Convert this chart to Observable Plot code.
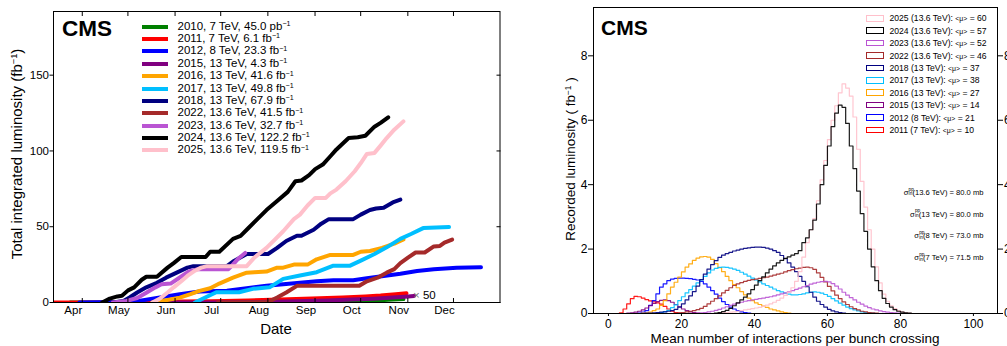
<!DOCTYPE html>
<html>
<head>
<meta charset="utf-8">
<script src="https://cdn.jsdelivr.net/npm/d3@7"></script>
<script src="https://cdn.jsdelivr.net/npm/@observablehq/plot@0.6"></script>
<style>
  html, body { margin: 0; padding: 0; background: #fff; }
  body { font-family: "Liberation Sans", Arial, Helvetica, sans-serif; color: #000; }
  #wrap { position: relative; width: 1007px; height: 346px; overflow: hidden; background: #fff; }
  .t { position: absolute; white-space: nowrap; line-height: 1; }
  .sup { font-size: 0.62em; position: relative; top: -0.5em; }
  .sw { position: absolute; }
  .ss { display: inline-block; position: relative; width: 0.85em; height: 1em; font-size: 0.62em; vertical-align: baseline; }
  .ss .p { position: absolute; left: 0.05em; top: -0.55em; }
  .ss .i { position: absolute; left: 0.05em; top: 0.45em; }
  .mu { font-size: 0.8em; }
</style>
</head>
<body>
<div id="wrap"></div>
<script>
// ---------------- LEFT PANEL DATA: cumulative integrated luminosity ----------------
const lumiYears  = ["2010", "2011", "2012", "2015", "2016", "2017", "2018", "2022", "2023", "2024", "2025"];
const lumiColors = ["green", "red", "blue", "purple", "orange", "deepskyblue", "navy", "brown", "mediumorchid", "black", "pink"];
const lumiLabels = ["2010, 7 TeV, 45.0 pb", "2011, 7 TeV, 6.1 fb", "2012, 8 TeV, 23.3 fb", "2015, 13 TeV, 4.3 fb",
  "2016, 13 TeV, 41.6 fb", "2017, 13 TeV, 49.8 fb", "2018, 13 TeV, 67.9 fb", "2022, 13.6 TeV, 41.5 fb",
  "2023, 13.6 TeV, 32.7 fb", "2024, 13.6 TeV, 122.2 fb", "2025, 13.6 TeV, 119.5 fb"];
const monthTicks = ["04-01", "05-01", "06-01", "07-01", "08-01", "09-01", "10-01", "11-01", "12-01"];
const lumiTicks = [0, 50, 100, 150];

// 2010 is drawn x50
const dates2010 = ["03-30", "05-01", "06-01", "07-01", "08-01", "08-20", "09-10", "09-25", "10-05", "10-15", "10-25", "11-04"];
const lumi2010  = [0, 0, 0.01, 0.05, 0.15, 0.2, 0.3, 0.5, 0.8, 1.2, 1.8, 2.25];
const dates2011 = ["03-19", "04-15", "05-01", "05-20", "06-10", "07-01", "07-25", "08-15", "09-05", "09-25", "10-10", "10-20", "10-30", "11-06"];
const lumi2011  = [0, 0.02, 0.1, 0.3, 0.6, 0.9, 1.3, 2.0, 2.6, 3.3, 4.0, 4.6, 5.5, 6.1];
const dates2012 = ["04-05", "05-02", "05-15", "05-28", "06-10", "06-23", "07-11", "07-24", "08-06", "08-17", "08-28", "09-08", "09-19", "10-02", "10-11", "10-22", "11-02", "11-13", "11-24", "12-09", "12-25"];
const lumi2012  = [0, 0.3, 1.2, 3.3, 5.5, 7.2, 7.7, 9.4, 11, 12, 13, 14, 14.7, 14.7, 16, 17.5, 19, 20.8, 22, 23, 23.3];
const dates2015 = ["06-03", "07-01", "08-01", "08-25", "09-15", "10-01", "10-15", "10-28", "11-05", "11-11"];
const lumi2015  = [0, 0.05, 0.3, 0.9, 1.4, 1.9, 2.5, 3.3, 3.8, 4.3];
const dates2016 = ["05-23", "06-01", "06-10", "06-17", "06-23", "06-30", "07-06", "07-15", "07-24", "07-29", "08-06", "08-13", "08-17", "08-24", "09-02", "09-08", "09-17", "10-02", "10-07", "10-13", "10-21", "10-29", "11-04"];
const lumi2016  = [0, 1.5, 3.2, 5.5, 7.7, 9.4, 12.5, 16.4, 19.7, 20, 20.4, 23, 23, 25, 25, 28.5, 31.4, 31.4, 33.5, 34, 36, 38.8, 41.6];
const dates2017 = ["06-20", "06-24", "07-04", "07-19", "07-28", "08-08", "08-17", "08-28", "09-08", "09-19", "09-30", "10-07", "10-16", "10-24", "11-02", "11-09", "11-17", "12-04"];
const lumi2017  = [0, 2, 6.8, 6.8, 9, 10, 15.6, 17.8, 20, 24.3, 24.3, 27.6, 32, 36.4, 42, 45.2, 49.1, 49.8];
const dates2018 = ["04-27", "05-04", "05-08", "05-13", "05-19", "05-26", "06-01", "06-08", "06-15", "06-19", "07-11", "07-15", "07-24", "08-07", "08-13", "08-19", "08-26", "08-29", "09-06", "09-11", "09-16", "10-02", "10-07", "10-13", "10-17", "10-22", "10-28", "11-02"];
const lumi2018  = [0, 1, 3.3, 6.6, 10, 13, 16.4, 19.7, 23, 24, 24, 27, 32, 32, 36, 40.6, 44, 44, 48, 52, 55, 55, 58, 61, 62, 62.5, 66, 67.9];
const dates2022 = ["07-05", "08-07", "08-13", "08-19", "08-26", "10-06", "10-11", "10-18", "10-24", "10-29", "11-02", "11-07", "11-12", "11-18", "11-24", "11-28", "12-01", "12-06"];
const lumi2022  = [0, 0.3, 3.3, 6.6, 11, 11, 14, 16.4, 19.7, 22, 26, 29.6, 33, 33, 37, 37.3, 39.5, 41.5];
const dates2023 = ["04-27", "05-06", "05-13", "05-19", "05-25", "05-29", "06-04", "06-10", "06-16", "06-22", "07-12", "07-14", "07-18", "07-23"];
const lumi2023  = [0, 1, 3, 6.5, 10, 12, 12.5, 16.5, 20.5, 22, 22, 24, 28.5, 32.7];
const dates2024 = ["04-20", "04-25", "04-30", "05-03", "05-07", "05-11", "05-16", "05-19", "05-26", "06-02", "06-06", "06-11", "06-27", "06-30", "07-06", "07-15", "07-20", "07-25", "07-31", "08-06", "08-13", "08-20", "08-25", "08-29", "09-03", "09-07", "09-12", "09-17", "09-21", "09-29", "10-05", "10-10", "10-16", "10-20", "10-25"];
const lumi2024  = [0, 2.6, 4, 4.4, 8, 10, 15, 17, 17, 23, 26, 30, 30, 33.5, 33.5, 42, 44, 49, 55, 61, 67, 73, 80, 80.5, 84, 88, 91, 96.5, 101, 108.5, 109, 110, 116, 118.5, 122.2];
const dates2025 = ["05-23", "05-28", "06-02", "06-06", "06-11", "06-15", "06-20", "06-24", "06-28", "07-24", "07-29", "08-06", "08-11", "08-17", "08-24", "08-28", "09-02", "09-07", "09-14", "09-17", "09-21", "09-27", "10-03", "10-07", "10-11", "10-16", "10-20", "10-24", "10-29", "11-04"];
const lumi2025  = [0, 2.6, 6.6, 10, 14, 17.5, 21, 23, 24, 24, 29.6, 36, 41, 47, 55, 58, 64, 69, 69, 72, 74.5, 80, 86.6, 92, 98, 98.7, 103.5, 108.5, 114, 119.5];

const lumiDates = [dates2010, dates2011, dates2012, dates2015, dates2016, dates2017, dates2018, dates2022, dates2023, dates2024, dates2025];
const lumiVals  = [lumi2010, lumi2011, lumi2012, lumi2015, lumi2016, lumi2017, lumi2018, lumi2022, lumi2023, lumi2024, lumi2025];

// ---------------- RIGHT PANEL DATA: pileup distributions (bin width 1, first bin given) ----------------
const puYears  = ["2011", "2012", "2015", "2016", "2017", "2018", "2022", "2023", "2025", "2024"];
const puColors = ["red", "blue", "purple", "orange", "deepskyblue", "navy", "brown", "mediumorchid", "pink", "black"];
const puLegendYears  = ["2025", "2024", "2023", "2022", "2018", "2017", "2016", "2015", "2012", "2011"];
const puLegendEnergy = ["13.6", "13.6", "13.6", "13.6", "13", "13", "13", "13", "8", "7"];
const puLegendMean   = [60, 57, 52, 46, 37, 38, 27, 14, 21, 10];
const puTicks  = [0, 20, 40, 60, 80, 100];
const recTicks = [0, 2, 4, 6, 8];
const xsecEnergy = ["13.6", "13", "8", "7"];
const xsecValue  = ["80.0", "80.0", "73.0", "71.5"];

const pu2011Start = 3;
const pu2011 = [0.02, 0.14, 0.3, 0.46, 0.53, 0.52, 0.48, 0.43, 0.39, 0.36, 0.33, 0.29, 0.22, 0.14, 0.07, 0.03, 0.01];
const pu2012Start = 8;
const pu2012 = [0.01, 0.04, 0.09, 0.25, 0.4, 0.61, 0.82, 0.92, 1.02, 1.07, 1.09, 1.1, 1.1, 1.09, 1.08, 1.06, 1.04, 1.0, 0.92, 0.82, 0.71, 0.6, 0.48, 0.37, 0.28, 0.2, 0.14, 0.09, 0.05, 0.03, 0.01];
const pu2015Start = 5;
const pu2015 = [0.01, 0.02, 0.04, 0.07, 0.11, 0.17, 0.24, 0.31, 0.37, 0.41, 0.42, 0.4, 0.35, 0.28, 0.21, 0.14, 0.09, 0.05, 0.03, 0.01];
const pu2016Start = 9;
const pu2016 = [0.01, 0.02, 0.04, 0.09, 0.14, 0.25, 0.4, 0.61, 0.82, 0.97, 1.13, 1.29, 1.44, 1.54, 1.65, 1.72, 1.76, 1.77, 1.75, 1.68, 1.55, 1.42, 1.3, 1.15, 1.02, 0.9, 0.8, 0.68, 0.58, 0.48, 0.4, 0.33, 0.28, 0.23, 0.19, 0.14, 0.11, 0.08, 0.05, 0.03, 0.01];
const pu2017Start = 13;
const pu2017 = [0.01, 0.03, 0.06, 0.1, 0.18, 0.27, 0.4, 0.52, 0.64, 0.74, 0.85, 0.95, 1.04, 1.15, 1.26, 1.35, 1.4, 1.43, 1.44, 1.43, 1.41, 1.38, 1.34, 1.28, 1.22, 1.16, 1.1, 1.04, 0.98, 0.92, 0.87, 0.82, 0.76, 0.71, 0.67, 0.63, 0.6, 0.58, 0.58, 0.59, 0.61, 0.64, 0.66, 0.67, 0.66, 0.63, 0.59, 0.53, 0.46, 0.39, 0.32, 0.26, 0.2, 0.15, 0.11, 0.08, 0.05, 0.03, 0.02, 0.01];
const pu2018Start = 10;
const pu2018 = [0.01, 0.01, 0.02, 0.03, 0.04, 0.05, 0.07, 0.09, 0.13, 0.2, 0.3, 0.42, 0.55, 0.68, 0.85, 1.05, 1.22, 1.38, 1.52, 1.64, 1.74, 1.81, 1.86, 1.9, 1.94, 1.97, 2.0, 2.02, 2.04, 2.05, 2.06, 2.06, 2.05, 2.03, 2.0, 1.95, 1.9, 1.8, 1.7, 1.57, 1.44, 1.3, 1.15, 1.0, 0.83, 0.66, 0.51, 0.38, 0.28, 0.2, 0.13, 0.08, 0.05, 0.03, 0.01];
const pu2022Start = 18;
const pu2022 = [0.01, 0.02, 0.03, 0.05, 0.07, 0.09, 0.12, 0.16, 0.22, 0.3, 0.38, 0.46, 0.55, 0.64, 0.72, 0.8, 0.87, 0.92, 0.96, 1.0, 1.03, 1.05, 1.07, 1.09, 1.11, 1.13, 1.16, 1.19, 1.22, 1.25, 1.29, 1.33, 1.36, 1.39, 1.41, 1.43, 1.44, 1.42, 1.37, 1.26, 1.12, 0.98, 0.84, 0.7, 0.57, 0.46, 0.36, 0.28, 0.21, 0.15, 0.11, 0.07, 0.05, 0.03, 0.02, 0.01];
const pu2023Start = 24;
const pu2023 = [0.01, 0.02, 0.03, 0.05, 0.07, 0.1, 0.13, 0.17, 0.21, 0.25, 0.29, 0.32, 0.35, 0.38, 0.4, 0.42, 0.44, 0.46, 0.48, 0.5, 0.52, 0.55, 0.58, 0.61, 0.64, 0.67, 0.71, 0.75, 0.79, 0.83, 0.87, 0.91, 0.94, 0.97, 0.99, 1.0, 0.98, 0.93, 0.85, 0.76, 0.66, 0.57, 0.49, 0.42, 0.35, 0.29, 0.23, 0.18, 0.14, 0.11, 0.08, 0.06, 0.04, 0.03, 0.02, 0.01];
const pu2024Start = 29;
const pu2024 = [0.01, 0.03, 0.06, 0.1, 0.16, 0.24, 0.33, 0.42, 0.51, 0.61, 0.74, 0.88, 1.02, 1.14, 1.26, 1.38, 1.48, 1.57, 1.65, 1.71, 1.76, 1.81, 1.86, 1.95, 2.2, 2.35, 2.6, 2.9, 3.4, 4.0, 4.6, 5.2, 5.8, 6.22, 6.47, 6.4, 5.9, 5.2, 4.5, 3.8, 3.1, 2.55, 2.0, 1.45, 1.02, 0.71, 0.47, 0.31, 0.2, 0.12, 0.07, 0.04, 0.02, 0.01];
const pu2025Start = 30;
const pu2025 = [0.01, 0.02, 0.03, 0.04, 0.05, 0.07, 0.09, 0.11, 0.13, 0.15, 0.17, 0.19, 0.22, 0.26, 0.3, 0.35, 0.41, 0.48, 0.56, 0.66, 0.8, 1.0, 1.3, 1.75, 2.2, 2.6, 2.95, 3.5, 4.15, 4.75, 5.4, 6.0, 6.45, 6.85, 7.13, 7.0, 6.75, 6.1, 5.1, 4.1, 3.3, 2.6, 2.0, 1.45, 0.95, 0.6, 0.38, 0.24, 0.15, 0.09, 0.05, 0.03, 0.01];

const puStarts = [pu2011Start, pu2012Start, pu2015Start, pu2016Start, pu2017Start, pu2018Start, pu2022Start, pu2023Start, pu2025Start, pu2024Start];
const puVals   = [pu2011, pu2012, pu2015, pu2016, pu2017, pu2018, pu2022, pu2023, pu2025, pu2024];

// ---------------- build tables ----------------
const toDate = md => new Date(`2023-${md}T00:00:00Z`);
const lumiRows = lumiYears.flatMap((yr, k) => lumiDates[k].map((d, i) => ({year: yr, date: toDate(d), value: lumiVals[k][i]})));
const monthDates = monthTicks.map(toDate);

const puRows = [];
puYears.forEach((yr, k) => {
  for (let m = 0; m <= 100; m++) {
    const i = m - puStarts[k];
    const v = (i >= 0 && i < puVals[k].length) ? puVals[k][i] : 0;
    puRows.push({year: yr, mu: m, v});
  }
});

const FONT = '"Liberation Sans", Arial, Helvetica, sans-serif';
const wrap = document.getElementById("wrap");

// ---------------- LEFT PLOT ----------------
const leftPlot = Plot.plot({
  width: 503, height: 346,
  marginLeft: 53, marginRight: 3.5, marginTop: 11, marginBottom: 44,
  style: {fontFamily: FONT, fontSize: "11.5px", color: "black", background: "transparent"},
  x: {type: "utc", domain: [toDate("03-19"), new Date("2024-01-06T12:00:00Z")]},
  y: {domain: [0, 192]},
  color: {domain: lumiYears, range: lumiColors},
  marks: [
    Plot.line(lumiRows, {x: "date", y: "value", z: "year", stroke: "year", strokeWidth: 4, strokeLinejoin: "round", clip: true}),
    Plot.frame({stroke: "black", strokeWidth: 1}),
    Plot.axisX({anchor: "bottom", ticks: monthDates, tickFormat: d3.utcFormat("%b"), tickSize: 0, tickPadding: 3, label: null}),
    Plot.axisX({anchor: "bottom", ticks: monthDates, tickSize: -4, dx: 9, fill: "none", label: null}),
    Plot.axisX({anchor: "top", ticks: monthDates, tickSize: -4, dx: 9, fill: "none", label: null}),
    Plot.axisY({anchor: "left", ticks: lumiTicks, tickSize: 3.5, tickPadding: 1, label: null}),
    Plot.axisY({anchor: "right", ticks: lumiTicks, tickSize: -4, fill: "none", label: null})
  ]
});
leftPlot.style.position = "absolute";
leftPlot.style.left = "0px";
leftPlot.style.top = "0px";
wrap.appendChild(leftPlot);

// ---------------- RIGHT PLOT ----------------
const rightPlot = Plot.plot({
  width: 504, height: 346,
  marginLeft: 90, marginRight: 10, marginTop: 7, marginBottom: 33,
  style: {fontFamily: FONT, fontSize: "12px", color: "black", background: "transparent"},
  x: {domain: [-4.1, 106.6]},
  y: {domain: [0, 9.5]},
  color: {domain: puYears, range: puColors},
  marks: [
    Plot.line(puRows, {x: "mu", y: "v", z: "year", stroke: "year", strokeWidth: 1.2, curve: "step-after", strokeOpacity: 0.9}),
    Plot.frame({stroke: "black", strokeWidth: 1}),
    Plot.axisX({anchor: "bottom", ticks: puTicks, tickSize: 3, tickPadding: 3, label: null}),
    Plot.axisY({anchor: "left", ticks: recTicks, tickSize: 5, tickPadding: 1, label: null}),
    Plot.axisY({anchor: "right", ticks: recTicks, tickSize: 5, tickPadding: 1.5, label: null})
  ]
});
rightPlot.style.position = "absolute";
rightPlot.style.left = "503px";
rightPlot.style.top = "0px";
wrap.appendChild(rightPlot);

// ---------------- text helpers ----------------
function addText(html, {x, y, size, weight = "normal", align = "left", rotate = false, color = "#000"}) {
  const el = document.createElement("div");
  el.className = "t";
  el.innerHTML = html;
  el.style.fontSize = size + "px";
  el.style.fontWeight = weight;
  el.style.color = color;
  el.style.left = x + "px";
  el.style.top = y + "px";
  let tx = align === "left" ? "0" : align === "right" ? "-100%" : "-50%";
  el.style.transform = rotate ? "translate(-50%,-50%) rotate(-90deg)" : `translate(${tx},-50%)`;
  wrap.appendChild(el);
  return el;
}
function addSwatch({x, y, w, h, color, outline = false}) {
  const el = document.createElement("div");
  el.className = "sw";
  el.style.left = x + "px";
  el.style.top = (y - h / 2) + "px";
  el.style.width = w + "px";
  el.style.height = h + "px";
  if (outline) {
    el.style.boxSizing = "border-box";
    el.style.border = `1.3px solid ${color}`;
  } else {
    el.style.background = color;
  }
  wrap.appendChild(el);
}
const SUP = '<span class="sup">\u22121</span>';

// left panel texts
addText("CMS", {x: 62, y: 28.7, size: 22.5, weight: "bold"});
lumiLabels.forEach((lab, i) => {
  const cy = 26.7 + 12.36 * i;
  addSwatch({x: 141.7, y: cy, w: 26.6, h: 4, color: lumiColors[i]});
  addText(lab + SUP, {x: 177.5, y: cy, size: 11.5});
});
addText('<span style="color:#777">\u00d7</span> 50', {x: 413, y: 296, size: 11.5});
addText("Date", {x: 276, y: 327.5, size: 15, align: "center"});
addText("Total integrated luminosity (fb" + SUP + ")", {x: 17, y: 153.5, size: 15, rotate: true});

// right panel texts
addText("CMS", {x: 601, y: 27.2, size: 21, weight: "bold"});
puLegendYears.forEach((yr, i) => {
  const cy = 18.3 + 12.4 * i;
  const col = puColors[puYears.indexOf(yr)];
  addSwatch({x: 866, y: cy, w: 17.5, h: 6.5, color: col, outline: true});
  addText(`${yr} (${puLegendEnergy[i]} TeV): <span class="mu">&lt;\u03bc&gt;</span> = ${puLegendMean[i]}`, {x: 889.5, y: cy, size: 8.6});
});
xsecEnergy.forEach((e, i) => {
  addText(`\u03c3<span class="ss"><span class="p">pp</span><span class="i">in</span></span>(${e} TeV) = ${xsecValue[i]} mb`, {x: 983.5, y: 193 + 21.7 * i, size: 7.6, align: "right"});
});
addText("Recorded luminosity ( fb" + SUP + " )", {x: 570.5, y: 159, size: 13.5, rotate: true});
addText("Mean number of interactions per bunch crossing", {x: 795, y: 339.2, size: 13.5, align: "center"});
</script>
</body>
</html>
